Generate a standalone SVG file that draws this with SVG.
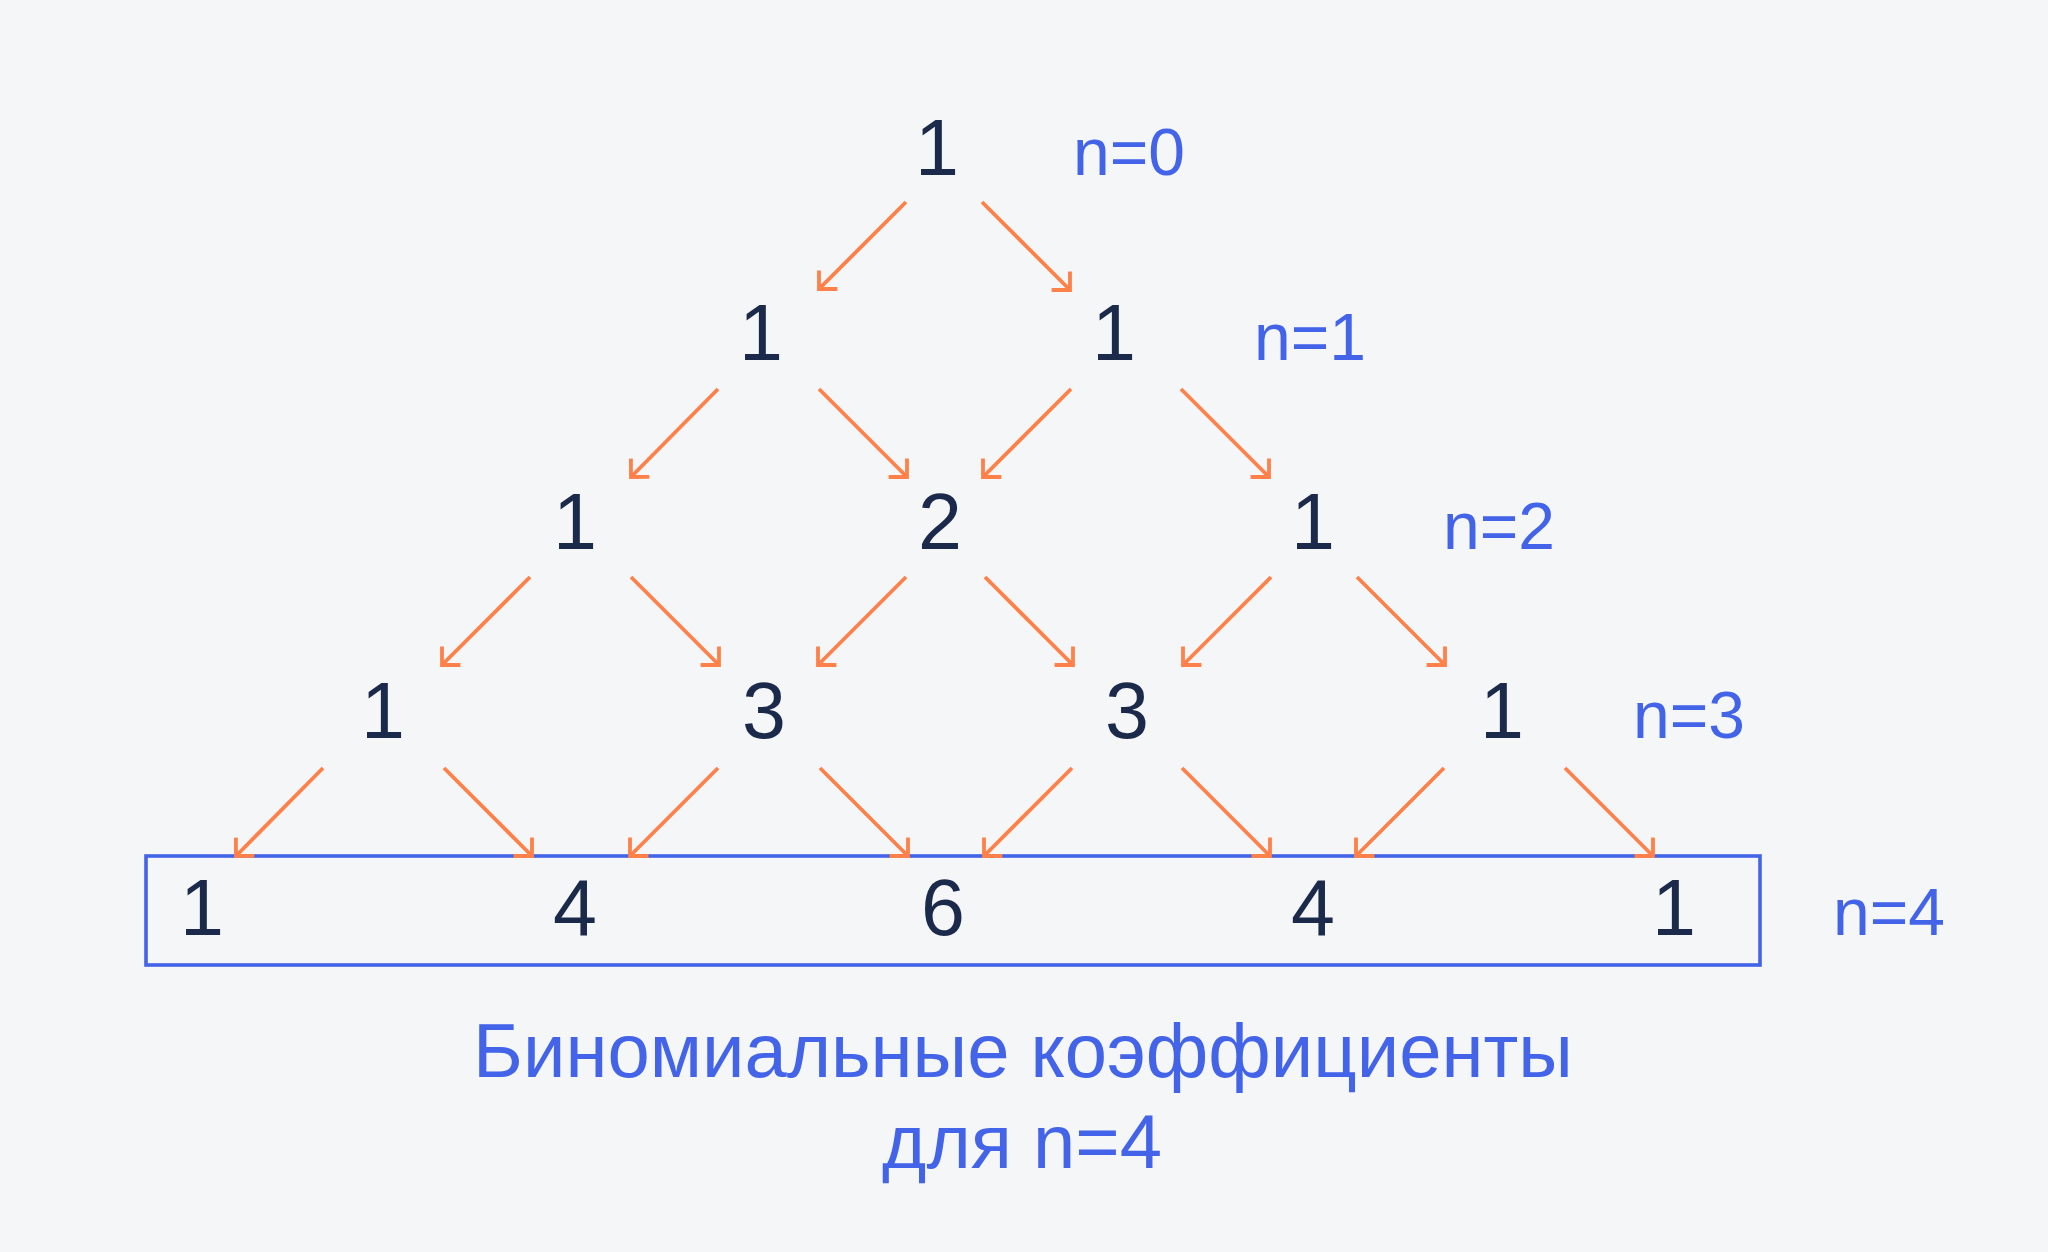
<svg xmlns="http://www.w3.org/2000/svg" width="2048" height="1252" viewBox="0 0 2048 1252">
<defs>
<style>
.num{font-family:"Liberation Sans",Arial,sans-serif;font-size:79px;fill:#1B2A4A;text-anchor:middle}
.lbl{font-family:"Liberation Sans",Arial,sans-serif;font-size:66px;fill:#4363E8}
.title{font-family:"Liberation Sans",Arial,sans-serif;font-size:76px;fill:#4363E8;text-anchor:middle}
.arr{stroke:#FF8049;stroke-width:3.8;fill:none;marker-end:url(#ah)}
</style>
<marker id="ah" markerUnits="userSpaceOnUse" orient="auto" markerWidth="40" markerHeight="40" refX="0" refY="0" viewBox="-20 -20 40 40" overflow="visible">
<path d="M-13,-13 L0,0 L-13,13" fill="none" stroke="#FF8049" stroke-width="3.8"/>
</marker>
</defs>
<rect x="0" y="0" width="2048" height="1252" fill="#F4F6F8"/>
<rect id="row4-box" x="146" y="856" width="1614" height="109" fill="none" stroke="#4363E8" stroke-width="3.6"/>
<g id="row0"><text class="num" x="937" y="175">1</text></g>
<g id="row1"><text class="num" x="761" y="360">1</text><text class="num" x="1114" y="360">1</text></g>
<g id="row2"><text class="num" x="575" y="549">1</text><text class="num" x="940" y="549">2</text><text class="num" x="1313" y="549">1</text></g>
<g id="row3"><text class="num" x="383" y="738">1</text><text class="num" x="764" y="738">3</text><text class="num" x="1127" y="738">3</text><text class="num" x="1502" y="738">1</text></g>
<g id="row4"><text class="num" x="202" y="935">1</text><text class="num" x="575" y="935">4</text><text class="num" x="943" y="935">6</text><text class="num" x="1313" y="935">4</text><text class="num" x="1674" y="935">1</text></g>
<g id="labels">
<text class="lbl" x="1073" y="175">n=0</text>
<text class="lbl" x="1254" y="360">n=1</text>
<text class="lbl" x="1443" y="549">n=2</text>
<text class="lbl" x="1633" y="738">n=3</text>
<text class="lbl" x="1833" y="935">n=4</text>
</g>
<g id="connectors">
<line class="arr" x1="906" y1="202" x2="819" y2="289"/>
<line class="arr" x1="982" y1="202" x2="1070" y2="290"/>
<line class="arr" x1="718" y1="389" x2="631" y2="477"/>
<line class="arr" x1="819" y1="389" x2="907" y2="477"/>
<line class="arr" x1="1071" y1="389" x2="983" y2="477"/>
<line class="arr" x1="1181" y1="389" x2="1269" y2="477"/>
<line class="arr" x1="530" y1="577" x2="442" y2="665"/>
<line class="arr" x1="631" y1="577" x2="719" y2="665"/>
<line class="arr" x1="906" y1="577" x2="818" y2="665"/>
<line class="arr" x1="985" y1="577" x2="1073" y2="665"/>
<line class="arr" x1="1271" y1="577" x2="1183" y2="665"/>
<line class="arr" x1="1357" y1="577" x2="1445" y2="665"/>
<line class="arr" x1="323" y1="768" x2="236" y2="856"/>
<line class="arr" x1="444" y1="768" x2="532" y2="856"/>
<line class="arr" x1="718" y1="768" x2="630" y2="856"/>
<line class="arr" x1="820" y1="768" x2="908" y2="856"/>
<line class="arr" x1="1072" y1="768" x2="984" y2="856"/>
<line class="arr" x1="1182" y1="768" x2="1270" y2="856"/>
<line class="arr" x1="1444" y1="768" x2="1356" y2="856"/>
<line class="arr" x1="1565" y1="768" x2="1653" y2="856"/>
</g>
<g id="title">
<text class="title" x="1023" y="1077">Биномиальные коэффициенты</text>
<text class="title" x="1022" y="1168">для n=4</text>
</g>
</svg>
